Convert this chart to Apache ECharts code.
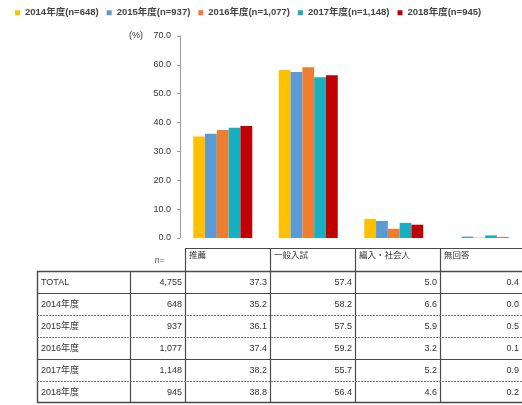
<!DOCTYPE html>
<html><head><meta charset="utf-8">
<script src="https://cdn.jsdelivr.net/npm/echarts@6/dist/echarts.min.js"></script>
<style>html,body{margin:0;padding:0;background:#fff}#c{width:522px;height:405px}</style>
</head><body><div id="c"></div>
<script>
// ---- data ----
const categories = ['推薦', '一般入試', '編入・社会人', '無回答'];
const seriesNames = ['2014年度(n=648)', '2015年度(n=937)', '2016年度(n=1,077)', '2017年度(n=1,148)', '2018年度(n=945)'];
const y2014 = [35.2, 58.2, 6.6, 0.0];
const y2015 = [36.1, 57.5, 5.9, 0.5];
const y2016 = [37.4, 59.2, 3.2, 0.1];
const y2017 = [38.2, 55.7, 5.2, 0.9];
const y2018 = [38.8, 56.4, 4.6, 0.2];
const totalValues = [37.3, 57.4, 5.0, 0.4];
const rowLabels = ['TOTAL', '2014年度', '2015年度', '2016年度', '2017年度', '2018年度'];
const nValues = ['4,755', '648', '937', '1,077', '1,148', '945'];
const nHeader = 'n=';
const yAxisUnit = '(%)';

// ---- styles ----
const colors = ['#FFC000', '#5B9BD5', '#ED7D31', '#1AAFC0', '#C00000'];
const FF = '"Liberation Sans", Arial, "Noto Sans CJK JP", sans-serif';
const yearSeries = [y2014, y2015, y2016, y2017, y2018];
const tableRows = [totalValues].concat(yearSeries);

const chart = echarts.init(document.getElementById('c'), null, {renderer: 'canvas'});

// table layout
const colX = [37, 130, 185, 270, 355, 440, 525];
const headTop = 248, bodyTop = 271, rowH = 22;
const bodyBottom = bodyTop + rowH * tableRows.length;
const lineCol = '#4a4a4a';
const txtCol = '#333';
const g = [];
function L(x1, y1, x2, y2, w, dash, col) {
  g.push({type: 'line', silent: true, shape: {x1, y1, x2, y2},
    style: {stroke: col || lineCol, lineWidth: w || 1, lineDash: dash || null}});
}
function T(x, y, text, align, opts) {
  g.push({type: 'text', silent: true, x, y,
    style: Object.assign({text, fill: txtCol, font: '9px ' + FF, align: align || 'left', verticalAlign: 'middle'}, opts || {})});
}
// header
L(colX[2], headTop + 0.5, colX[6], headTop + 0.5, 1.2);
for (let c = 2; c < 6; c++) {
  L(colX[c] + 0.5, headTop, colX[c] + 0.5, bodyTop, 1.2);
  T(colX[c] + 4, headTop + 8, categories[c - 2], 'left', {font: '8.5px ' + FF});
}
T((colX[1] + colX[2]) / 2 + 2, headTop + 13, nHeader, 'center', {font: 'italic 8.5px ' + FF, fill: '#555'});
// body outer
L(colX[0], bodyTop + 0.5, colX[6], bodyTop + 0.5, 1.4);
L(colX[0], bodyBottom - 0.5, colX[6], bodyBottom - 0.5, 1.4);
L(colX[0] + 0.5, bodyTop, colX[0] + 0.5, bodyBottom, 1.4);
for (let c = 1; c < 6; c++) L(colX[c] + 0.5, bodyTop, colX[c] + 0.5, bodyBottom, 1.2);
const sepDash = [false, true, true, false, true];
for (let r = 1; r < tableRows.length; r++) {
  const y = bodyTop + rowH * r + 0.5;
  if (sepDash[r - 1]) L(colX[0], y, colX[6], y, 1, [2, 1], '#777');
  else L(colX[0], y, colX[6], y, 1);
}
for (let r = 0; r < tableRows.length; r++) {
  const yc = bodyTop + rowH * r + rowH / 2 + 1;
  T(colX[0] + 4, yc, rowLabels[r], 'left');
  T(colX[2] - 3, yc, nValues[r], 'right');
  for (let c = 0; c < 4; c++) T(Math.min(colX[c + 3], 522) - 3, yc, tableRows[r][c].toFixed(1), 'right');
}

const option = {
  backgroundColor: '#fff',
  animation: false,
  color: colors,
  legend: {
    top: 3, left: 10, itemWidth: 5, itemHeight: 5, itemGap: 8, icon: 'rect',
    textStyle: {fontSize: 9.5, fontWeight: 'bold', color: '#444', fontFamily: FF}
  },
  grid: {left: 180, top: 36, width: 344, height: 202, containLabel: false},
  xAxis: {
    type: 'category', data: categories,
    axisLine: {show: false}, axisTick: {show: false}, axisLabel: {show: false}
  },
  yAxis: {
    type: 'value', min: 0, max: 70, interval: 10,
    axisLine: {show: true, lineStyle: {color: '#999'}},
    axisTick: {show: true, length: 3, lineStyle: {color: '#999'}},
    splitLine: {show: false},
    axisLabel: {fontSize: 9, color: '#333', margin: 9, fontFamily: FF, formatter: v => v.toFixed(1)}
  },
  series: yearSeries.map((d, i) => ({
    name: seriesNames[i], type: 'bar', data: d,
    barGap: '0%', barCategoryGap: '31%'
  })),
  graphic: g
};
chart.setOption(option);
const yTop = chart.convertToPixel({yAxisIndex: 0}, 70);
g.push({type: 'text', silent: true, x: 143, y: yTop,
  style: {text: yAxisUnit, fill: '#333', font: '9px ' + FF, align: 'right', verticalAlign: 'middle'}});
chart.setOption({graphic: g});
</script></body></html>
